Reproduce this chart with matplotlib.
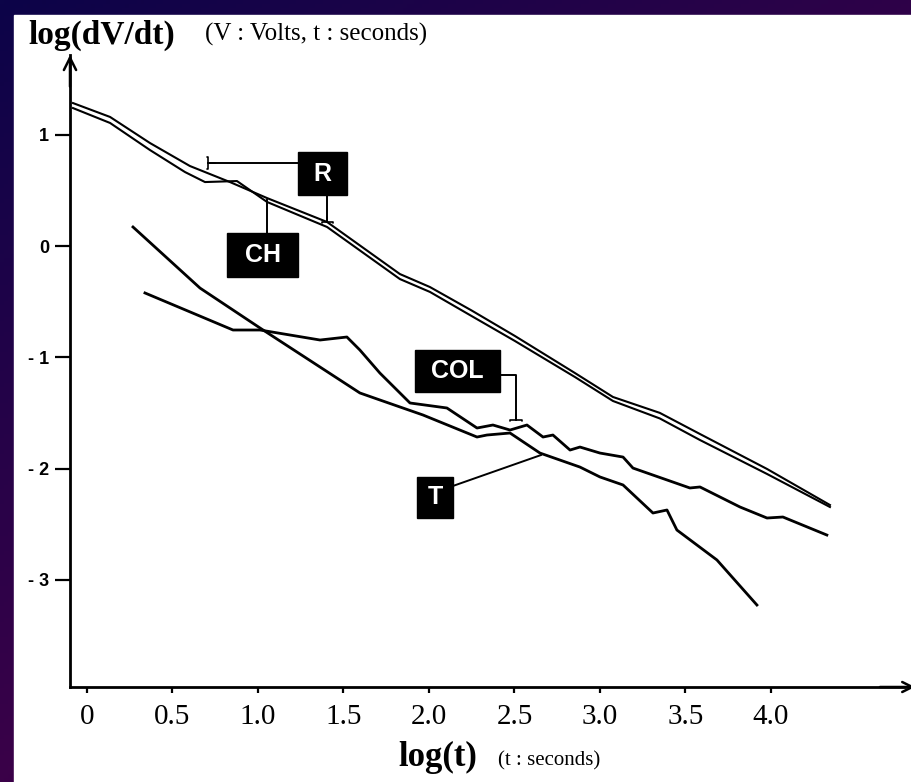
import numpy as np
import matplotlib.pyplot as plt
from matplotlib.patches import Rectangle

# ------------------------------------------------------------
# data: log(t) vs log(dV/dt)
# ------------------------------------------------------------
r_logt = [-0.082, 0.135, 0.368, 0.602, 0.836, 1.053, 1.404, 1.830, 2.006,
          2.25, 2.503, 2.854, 3.076, 3.35, 3.585, 3.977, 4.345]
r_logv = [1.285, 1.160, 0.926, 0.719, 0.575, 0.431, 0.216, -0.252, -0.369,
          -0.58, -0.809, -1.142, -1.357, -1.50, -1.690, -2.004, -2.328]

ch_logt = [-0.082, 0.135, 0.368, 0.573, 0.690, 0.877, 1.053, 1.404, 1.830,
           2.006, 2.25, 2.503, 2.854, 3.076, 3.35, 3.585, 3.977, 4.345]
ch_logv = [1.240, 1.106, 0.863, 0.665, 0.575, 0.584, 0.396, 0.171, -0.297,
           -0.413, -0.63, -0.854, -1.178, -1.393, -1.55, -1.744, -2.049, -2.346]

col_logt = [0.339, 0.854, 1.012, 1.363, 1.520, 1.596, 1.713, 1.889, 2.105,
            2.281, 2.374, 2.474, 2.573, 2.667, 2.725, 2.825, 2.883, 3.000,
            3.135, 3.193, 3.526, 3.585, 3.819, 3.977, 4.070, 4.327]
col_logv = [-0.422, -0.755, -0.755, -0.845, -0.818, -0.935, -1.142, -1.411, -1.456,
            -1.636, -1.609, -1.654, -1.609, -1.717, -1.699, -1.834, -1.807, -1.861,
            -1.897, -1.996, -2.175, -2.166, -2.346, -2.445, -2.436, -2.598]

t_logt = [0.269, 0.661, 1.012, 1.596, 1.713, 1.965, 2.281, 2.339, 2.474,
          2.649, 2.883, 3.000, 3.135, 3.310, 3.392, 3.450, 3.684, 3.918]
t_logv = [0.171, -0.378, -0.737, -1.321, -1.384, -1.519, -1.717, -1.699, -1.681,
          -1.861, -1.987, -2.076, -2.148, -2.400, -2.373, -2.553, -2.822, -3.227]

xticks = [0, 0.5, 1.0, 1.5, 2.0, 2.5, 3.0, 3.5, 4.0]
xtick_labels = ["0", "0.5", "1.0", "1.5", "2.0", "2.5", "3.0", "3.5", "4.0"]
yticks = [1, 0, -1, -2, -3]
ytick_labels = ["1", "0", "- 1", "- 2", "- 3"]

W, H = 912, 782
fig = plt.figure(figsize=(W / 100, H / 100), dpi=100)

# purple/navy slide frame
bg = fig.add_axes([0, 0, 1, 1])
yy, xx = np.mgrid[0:1:200j, 0:1:240j]
t = np.clip(0.75 * yy + 0.55 * xx, 0, 1)
c0 = np.array([0x0c, 0x04, 0x48]) / 255
c1 = np.array([0x4a, 0x00, 0x48]) / 255
img = c0[None, None, :] * (1 - t[..., None]) + c1[None, None, :] * t[..., None]
bg.imshow(img, aspect="auto", extent=[0, 1, 0, 1], origin="upper")
bg.add_patch(Rectangle((14 / W, 0), 1, 1 - 15 / H, color="white"))
bg.set_xlim(0, 1)
bg.set_ylim(0, 1)
bg.axis("off")

# main plot area
x0, x1, y0, y1 = 70, 905, 55, 687
ax = fig.add_axes([x0 / W, 1 - y1 / H, (x1 - x0) / W, (y1 - y0) / H])
ax.set_facecolor("none")
ax.set_xlim(-0.0994, 4.784)
ax.set_ylim(-3.964, 1.717)

for s in ["top", "right"]:
    ax.spines[s].set_visible(False)
for s in ["left", "bottom"]:
    ax.spines[s].set_linewidth(2.0)
    ax.spines[s].set_color("black")

ax.set_xticks(xticks)
ax.set_xticklabels(xtick_labels, fontfamily="Liberation Serif", fontsize=21)
ax.set_yticks(yticks)
ax.set_yticklabels(ytick_labels, fontfamily="Liberation Sans", fontsize=13,
                   fontweight="bold")
ax.tick_params(axis="x", direction="out", length=4, width=1.6, pad=8)
ax.tick_params(axis="y", direction="out", length=11, width=1.6, pad=4)

# axis arrows
ax.annotate("", xy=(0, 1.0), xytext=(0, 0.95), xycoords="axes fraction",
            arrowprops=dict(arrowstyle="->", lw=1.8, color="black",
                            mutation_scale=22, shrinkA=0, shrinkB=0))
ax.annotate("", xy=(1.012, 0), xytext=(0.97, 0), xycoords="axes fraction",
            arrowprops=dict(arrowstyle="->", lw=1.8, color="black",
                            mutation_scale=18, shrinkA=0, shrinkB=0),
            annotation_clip=False)

# curves
ax.plot(r_logt, r_logv, color="black", lw=1.5, solid_joinstyle="round")
ax.plot(ch_logt, ch_logv, color="black", lw=1.5, solid_joinstyle="round")
ax.plot(col_logt, col_logv, color="black", lw=2.0, solid_joinstyle="round")
ax.plot(t_logt, t_logv, color="black", lw=2.0, solid_joinstyle="round")

# black label boxes (left, bottom, width, height in data units)
boxes = {
    "R":   (1.234, 0.458, 0.286, 0.387),
    "CH":  (0.819, -0.279, 0.415, 0.396),
    "COL": (1.918, -1.312, 0.497, 0.377),
    "T":   (1.930, -2.445, 0.210, 0.369),
}
for name, (bx, by, bw, bh) in boxes.items():
    ax.add_patch(Rectangle((bx, by), bw, bh, color="black", zorder=3))
    ax.text(bx + bw / 2, by + bh / 2, name, color="white", ha="center",
            va="center", fontfamily="Liberation Sans", fontweight="bold",
            fontsize=18, zorder=4)

lead = dict(color="black", lw=1.4)
tip = dict(arrowstyle="-[", lw=1.2, color="black", mutation_scale=4,
           shrinkA=0, shrinkB=0)
# R -> both curves
ax.plot([1.234, 0.708], [0.746, 0.746], **lead)
ax.annotate("", xy=(0.708, 0.746), xytext=(0.75, 0.746), arrowprops=tip)
ax.plot([1.404, 1.404], [0.458, 0.216], **lead)
ax.annotate("", xy=(1.404, 0.216), xytext=(1.404, 0.26), arrowprops=tip)
# CH
ax.plot([1.053, 1.053], [0.117, 0.413], **lead)
# COL
ax.plot([2.415, 2.509, 2.509], [-1.160, -1.160, -1.564], **lead)
ax.annotate("", xy=(2.509, -1.564), xytext=(2.509, -1.52), arrowprops=tip)
# T
ax.plot([2.140, 2.655], [-2.157, -1.879], **lead)

# axis titles
fig.text(28 / W, 1 - 44 / H, "log(dV/dt)", fontfamily="Liberation Serif",
         fontsize=24, fontweight="bold", va="baseline")
fig.text(205 / W, 1 - 41 / H, "(V : Volts, t : seconds)",
         fontfamily="Liberation Serif", fontsize=18, va="baseline")
fig.text(398 / W, 1 - 766 / H, "log(t)", fontfamily="Liberation Serif",
         fontsize=25, fontweight="bold", va="baseline")
fig.text(498 / W, 1 - 765 / H, "(t : seconds)", fontfamily="Liberation Serif",
         fontsize=15, va="baseline")

fig.savefig("out.png", dpi=100)
